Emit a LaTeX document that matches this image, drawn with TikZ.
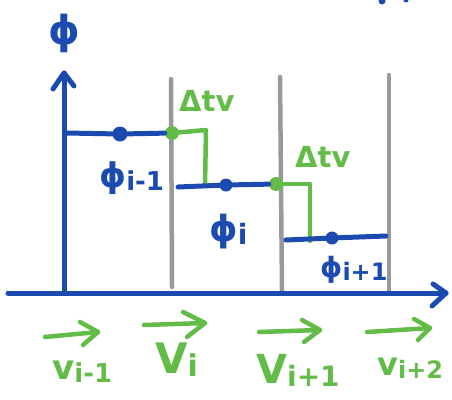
\documentclass[tikz,border=0pt]{standalone}
\usepackage{fontspec}
\setmainfont{DejaVu Sans}
\definecolor{pblue}{HTML}{1B4BB0}
\definecolor{pgreen}{HTML}{62BC47}
\definecolor{pgray}{HTML}{999999}
\newcommand{\lab}[4]{{\fontsize{#1}{#1}\selectfont #3}\raisebox{-0.3em}{\fontsize{#2}{#2}\selectfont #4}}
\tikzset{
  bl/.style={pblue, line width=5pt, line cap=round, line join=round},
  gr/.style={pgreen, line width=4.5pt, line cap=round, line join=round},
  gy/.style={pgray, line width=4.5pt, line cap=round},
  bdot/.style={circle, fill=pblue, inner sep=0pt, minimum width=13pt},
  gdot/.style={circle, fill=pgreen, inner sep=0pt, minimum width=14pt},
  bt/.style={pblue, font=\bfseries, inner sep=0pt},
  gt/.style={pgreen, font=\bfseries, inner sep=0pt}
}
\begin{document}
\begin{tikzpicture}[x=1pt, y=-1pt]
\useasboundingbox (0,0) rectangle (452,399);
% top cut marks
\fill[pblue] (382,1) circle (3.5pt);
\fill[pblue] (406,0) circle (2.5pt);
% phi axis label
\node[bt, font=\bfseries\fontsize{40}{40}\selectfont] (philab) at (64,33) {ϕ};
% grid lines
\coordinate (g1t) at (171,79); \coordinate (g1b) at (172,287);
\coordinate (g2t) at (280,77); \coordinate (g2b) at (282,292);
\coordinate (g3t) at (389,75); \coordinate (g3b) at (389,292);
\draw[gy] (g1t) -- (g1b);
\draw[gy] (g2t) -- (g2b);
\draw[gy] (g3t) -- (g3b);
% axes
\coordinate (o) at (64,293);
\coordinate (yt) at (64,73);
\coordinate (xl) at (8,293);
\coordinate (xr) at (446,293);
\draw[bl] (o) -- (yt);
\draw[bl] (yt) ++(-11,16) -- (yt) -- ++(10,13);
\draw[bl] (xl) -- (xr);
\draw[bl] (xr) ++(-13,-9) -- (xr) -- ++(-14,13);
% step 1
\coordinate (s1a) at (66,133);
\node[bdot, minimum height=15pt, minimum width=12pt] (d1) at (120,134) {};
\node[gdot] (e1) at (172,133) {};
\draw[bl] (s1a) -- (d1) -- (e1);
\coordinate (f1a) at (206,130);
\coordinate (f1b) at (205,186);
\draw[gr] (e1.center) -- (f1a) -- (f1b);
% step 2
\coordinate (s2a) at (178,187);
\node[bdot] (d2) at (226,185) {};
\node[gdot] (e2) at (276,184) {};
\draw[bl] (s2a) -- (d2) -- (e2);
\coordinate (f2a) at (310,184);
\coordinate (f2b) at (310,241);
\draw[gr] (e2.center) -- (f2a) -- (f2b);
% step 3
\coordinate (s3a) at (286,240);
\node[bdot] (d3) at (332,238) {};
\coordinate (s3b) at (386,236);
\draw[bl] (s3a) -- (d3) -- (s3b);
% Delta t v labels
\node[gt, font=\bfseries\fontsize{29}{29}\selectfont, anchor=west] (dtv1) at (179,101) {Δtv};
\node[gt, font=\bfseries\fontsize{29}{29}\selectfont, anchor=west] (dtv2) at (295,157) {Δtv};
% phi labels
\node[bt, anchor=west] (p1) at (99,178) {\lab{34}{26}{ϕ}{i-1}};
\node[bt, anchor=west] (p2) at (209,232) {\lab{36}{28}{ϕ}{i}};
\node[bt, anchor=west] (p3) at (320,270) {\lab{28}{24}{ϕ}{i+1}};
% velocity arrows
\coordinate (a1a) at (45,337); \coordinate (a1b) at (98,332);
\coordinate (a2a) at (144,325); \coordinate (a2b) at (205,323);
\coordinate (a3a) at (259,332); \coordinate (a3b) at (320,330);
\coordinate (a4a) at (367,332); \coordinate (a4b) at (430,328);
\draw[gr] (a1a) -- (a1b);
\draw[gr] (a1b) ++(-18,-10) -- (a1b) -- ++(-15,13);
\draw[gr] (a2a) -- (a2b);
\draw[gr] (a2b) ++(-22,-11) -- (a2b) -- ++(-18,14);
\draw[gr] (a3a) -- (a3b);
\draw[gr] (a3b) ++(-18,-10) -- (a3b) -- ++(-16,12);
\draw[gr] (a4a) -- (a4b);
\draw[gr] (a4b) ++(-16,-9) -- (a4b) -- ++(-12,12);
% velocity labels
\node[gt, anchor=west] (v1) at (52,372) {\lab{34}{26}{v}{i-1}};
\node[gt, anchor=west] (v2) at (155,360) {\lab{42}{30}{V}{i}};
\node[gt, anchor=west] (v3) at (256,370) {\lab{40}{28}{V}{i+1}};
\node[gt, anchor=west] (v4) at (377,368) {\lab{32}{24}{v}{i+2}};
\end{tikzpicture}
\end{document}
